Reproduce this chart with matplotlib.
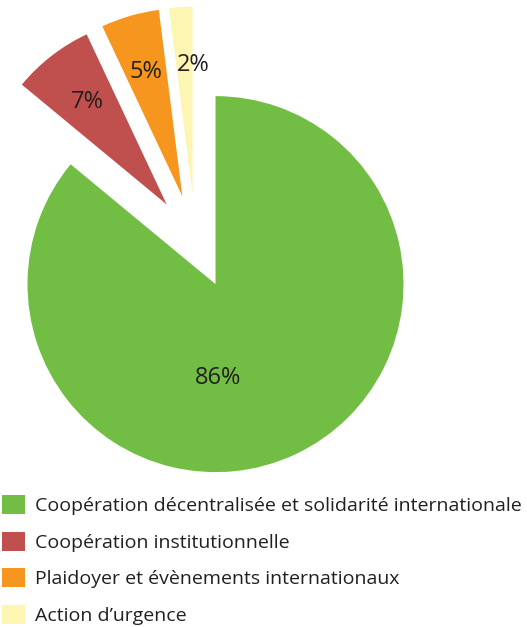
import matplotlib
matplotlib.use("Agg")
import matplotlib.pyplot as plt
from matplotlib.patches import Patch

# données
categories = [
    "Coopération décentralisée et solidarité internationale",
    "Coopération institutionnelle",
    "Plaidoyer et évènements internationaux",
    "Action d\u2019urgence",
]
shares = [86, 7, 5, 2]
colors = ["#72BE44", "#C0504D", "#F6961E", "#FDF6B3"]

W, H = 527, 627
plt.rcParams["font.family"] = ["Open Sans", "DejaVu Sans"]

fig = plt.figure(figsize=(W / 100, H / 100), dpi=100)
ax = fig.add_axes([0, 0, 1, 1])

R = 188
wedges, texts, autotexts = ax.pie(
    shares,
    colors=colors,
    explode=[47] * len(shares),  # décalage en unités de données (px)
    startangle=90,
    counterclock=False,
    radius=R,
    center=(195.5, H - 241.6),
    autopct="%d%%",
    pctdistance=0.69,
    frame=True,
    textprops={"fontsize": 17, "color": "#231F20"},
)
ax.set_xlim(0, W)
ax.set_ylim(0, H)
ax.set_aspect("equal")
ax.axis("off")
# étiquettes recentrées comme sur l'original
autotexts[0].set_position((218, H - 378))
x2, y2 = autotexts[3].get_position()
autotexts[3].set_position((x2 + 9, y2))

fig.legend(
    [Patch(facecolor=c, edgecolor="none") for c in colors],
    categories,
    loc="upper left",
    bbox_to_anchor=(0.003, 1 - 495 / H),
    frameon=False,
    fontsize=14,
    borderpad=0,
    borderaxespad=0,
    handlelength=1.2,
    handleheight=1.13,
    handletextpad=0.5,
    labelspacing=0.85,
    labelcolor="#231F20",
)

fig.savefig("out.png", dpi=100)
